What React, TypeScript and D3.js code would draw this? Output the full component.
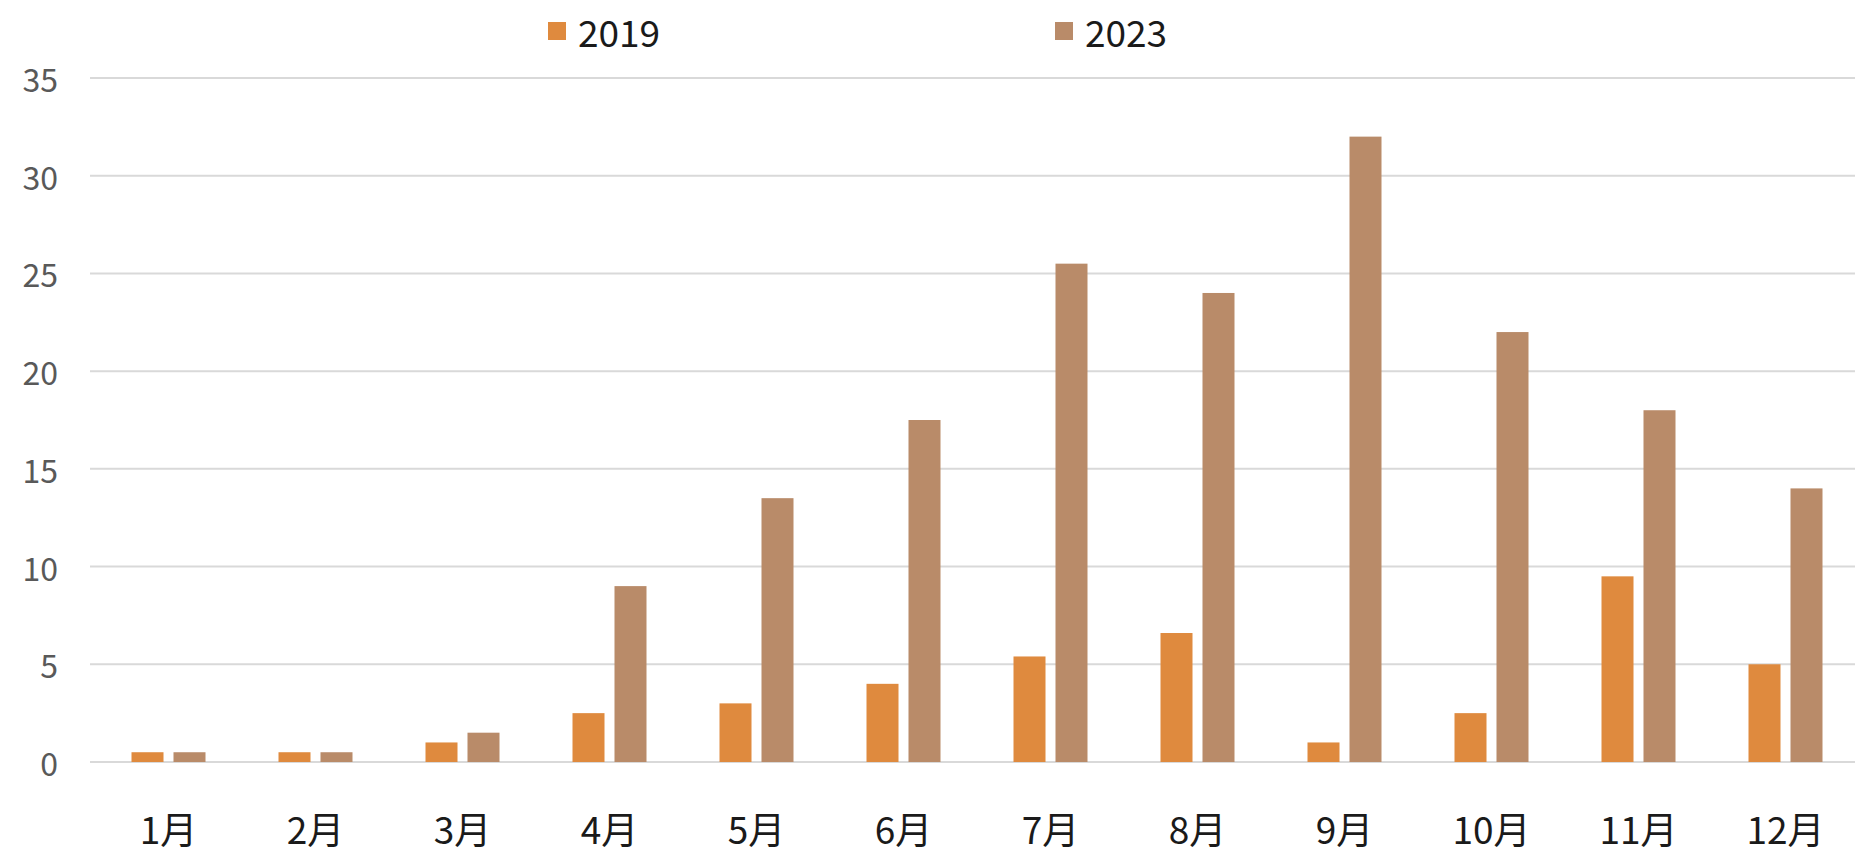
import React from "react";
import * as d3 from "d3";

const months = ["1月", "2月", "3月", "4月", "5月", "6月", "7月", "8月", "9月", "10月", "11月", "12月"];
const series = ["2019", "2023"];
const values2019 = [0.5, 0.5, 1, 2.5, 3, 4, 5.4, 6.6, 1, 2.5, 9.5, 5];
const values2023 = [0.5, 0.5, 1.5, 9, 13.5, 17.5, 25.5, 24, 32, 22, 18, 14];
const yTicks = [0, 5, 10, 15, 20, 25, 30, 35];
const colors = ["#DF8A3E", "#B98B69"];

const W = 1855;
const H = 855;
const FONT = "'Noto Sans CJK SC', 'Noto Sans', sans-serif";

export default function App() {
  const y = d3.scaleLinear().domain([0, 35]).range([762, 78]);
  const x = d3.scaleBand<string>().domain(months).range([95, 1859]).paddingInner(0).paddingOuter(0);
  const sub = d3.scaleBand<string>().domain(series).range([-37, 37]).paddingInner(0.238).paddingOuter(0);
  const data = [values2019, values2023];
  const legendX = [548, 1055];

  return (
    <svg width={W} height={H} style={{ position: "absolute", left: 0, top: 0, background: "#fff" }} fontFamily={FONT}>
      <rect x={0} y={0} width={W} height={H} fill="#fff" />
      {yTicks.map((t) => (
        <g key={t}>
          <line x1={90} x2={W} y1={y(t)} y2={y(t)} stroke="#D9D9D9" strokeWidth={2} />
          <text x={58} y={y(t)} textAnchor="end" dominantBaseline="central" fontSize={32} fill="#595959">
            {t}
          </text>
        </g>
      ))}
      {series.map((s, si) =>
        months.map((m, i) => {
          const cx = (x(m) as number) + x.bandwidth() / 2;
          const bx = cx + (sub(s) as number);
          return (
            <rect
              key={s + m}
              x={bx}
              y={y(data[si][i])}
              width={sub.bandwidth()}
              height={y(0) - y(data[si][i])}
              fill={colors[si]}
            />
          );
        })
      )}
      {months.map((m) => (
        <text
          key={m}
          x={(x(m) as number) + x.bandwidth() / 2}
          y={828}
          textAnchor="middle"
          dominantBaseline="central"
          fontSize={37}
          fill="#1a1a1a"
        >
          {m}
        </text>
      ))}
      {series.map((s, si) => (
        <g key={s}>
          <rect x={legendX[si]} y={22} width={18} height={18} fill={colors[si]} />
          <text x={legendX[si] + 30} y={31} dominantBaseline="central" fontSize={37} fill="#1a1a1a">
            {s}
          </text>
        </g>
      ))}
    </svg>
  );
}
